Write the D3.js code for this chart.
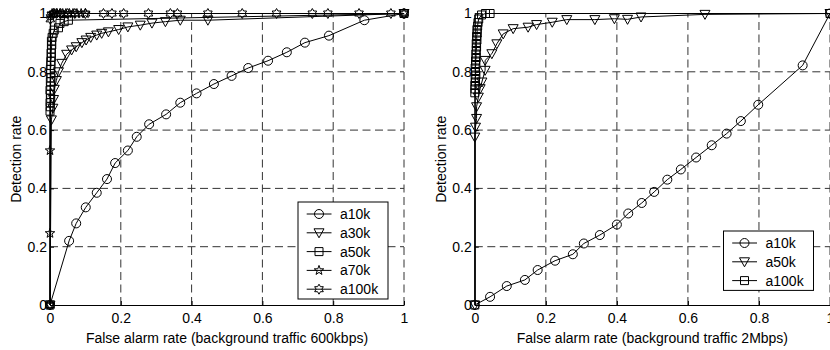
<!DOCTYPE html>
<html>
<head>
<meta charset="utf-8">
<script src="https://cdn.jsdelivr.net/npm/d3@7"></script>
<style>
  body { margin: 0; background: #fff; }
  svg { display: block; font-family: "Liberation Sans", Arial, Helvetica, sans-serif; }
</style>
</head>
<body>
<svg id="chart" width="830" height="350"></svg>
<script>
// tick values / labels shared by both panels
const tickValues = [0, 0.2, 0.4, 0.6, 0.8, 1];
const tickLabels = ["0", "0.2", "0.4", "0.6", "0.8", "1"];

// left panel: background traffic 600kbps, [false alarm, detection]
const a10k_600 = [[0,0],[0.054,0.22],[0.074,0.28],[0.101,0.335],[0.132,0.385],[0.161,0.432],[0.184,0.487],
  [0.22,0.53],[0.245,0.577],[0.28,0.62],[0.328,0.654],[0.368,0.694],[0.414,0.726],[0.463,0.758],[0.513,0.786],
  [0.56,0.813],[0.616,0.838],[0.669,0.867],[0.72,0.9],[0.788,0.924],[0.888,0.977],[1,1]];
const a30k_600 = [[0,0],[0.004,0.635],[0.008,0.675],[0.01,0.705],[0.012,0.74],[0.018,0.77],[0.024,0.8],
  [0.033,0.829],[0.047,0.86],[0.061,0.875],[0.074,0.886],[0.09,0.9],[0.102,0.909],[0.115,0.918],[0.132,0.926],
  [0.146,0.932],[0.165,0.937],[0.194,0.945],[0.22,0.954],[0.255,0.96],[0.288,0.967],[0.326,0.972],[0.368,0.977],
  [0.446,0.977],[1,1]];
const a50k_600 = [[0,0],[0,0.665],[0.001,0.68],[0,0.694],[0.002,0.709],[0.001,0.722],[0,0.737],[0.002,0.751],
  [0.001,0.766],[0.003,0.779],[0.002,0.794],[0.001,0.808],[0.003,0.822],[0.002,0.836],[0.004,0.85],[0.003,0.864],
  [0.004,0.878],[0.005,0.892],[0.004,0.905],[0.006,0.918],[0.009,0.932],[0.012,0.943],[0.024,0.951],
  [0.028,0.966],[0.04,0.972],[0.052,0.977],[1,1]];
const a70k_600 = [[0,0],[0,0.246],[0,0.53],[0.002,0.99],[0.006,1],[0.012,1],[0.02,1],[0.028,1],[0.036,1],
  [0.045,1],[0.055,1],[0.065,1],[0.076,1],[0.088,1],[0.1,1],[1,1]];
const a100k_600 = [[0,0],[0.001,0.98],[0.004,0.995],[0.01,1],[0.018,1],[0.03,1],[0.05,1],[0.07,1],[0.1,1],
  [0.151,1],[0.175,1],[0.208,1],[0.278,1],[0.34,1],[0.36,1],[0.446,1],[0.543,1],[0.64,1],[0.741,1],
  [0.785,1],[0.873,1],[0.963,1],[1,1]];

// right panel: background traffic 2Mbps
const a10k_2m = [[0,0],[0.043,0.028],[0.09,0.065],[0.141,0.086],[0.177,0.12],[0.226,0.152],[0.276,0.174],
  [0.307,0.211],[0.352,0.24],[0.4,0.276],[0.432,0.314],[0.47,0.35],[0.505,0.388],[0.542,0.43],[0.58,0.465],
  [0.623,0.506],[0.667,0.548],[0.709,0.588],[0.749,0.631],[0.798,0.687],[0.923,0.822],[1,1]];
const a50k_2m = [[0,0],[0,0.576],[0.002,0.61],[0.005,0.64],[0.005,0.68],[0.01,0.713],[0.015,0.742],
  [0.02,0.765],[0.029,0.805],[0.029,0.839],[0.048,0.862],[0.062,0.896],[0.08,0.93],[0.108,0.948],
  [0.15,0.953],[0.174,0.962],[0.218,0.97],[0.259,0.979],[0.338,0.979],[0.393,0.982],[0.43,0.98],
  [0.468,0.988],[0.648,0.997],[1,1]];
const a100k_2m = [[0,0],[0,0.728],[0.001,0.741],[0,0.753],[0.002,0.765],[0.001,0.777],[0.003,0.789],
  [0.002,0.801],[0.001,0.813],[0.003,0.825],[0.002,0.837],[0.004,0.849],[0.003,0.861],[0.004,0.873],
  [0.005,0.885],[0.004,0.897],[0.006,0.909],[0.005,0.921],[0.007,0.933],[0.006,0.945],[0.008,0.957],
  [0.009,0.969],[0.011,0.981],[0.019,0.995],[0.03,1],[0.043,1],[1,1]];

const leftNames = ["a10k", "a30k", "a50k", "a70k", "a100k"];
const rightNames = ["a10k", "a50k", "a100k"];
const xTitles = ["False alarm rate (background traffic 600kbps)", "False alarm rate (background traffic 2Mbps)"];
const yTitle = "Detection rate";

// marker shapes (size = radius in px)
const circle = { draw(c, r) { c.moveTo(r, 0); c.arc(0, 0, r, 0, 2 * Math.PI); } };
const triDown = { draw(c, r) { c.moveTo(-r, -r * 0.8); c.lineTo(r, -r * 0.8); c.lineTo(0, r); c.closePath(); } };
const square = { draw(c, r) { c.rect(-r, -r, 2 * r, 2 * r); } };
function starShape(n, inner) {
  return { draw(c, r) {
    for (let i = 0; i < 2 * n; i++) {
      const a = -Math.PI / 2 + i * Math.PI / n, rr = i % 2 ? r * inner : r;
      if (i === 0) c.moveTo(rr * Math.cos(a), rr * Math.sin(a));
      else c.lineTo(rr * Math.cos(a), rr * Math.sin(a));
    }
    c.closePath();
  } };
}
const pentagram = starShape(5, 0.4);
const hexagram = starShape(6, 0.577);

const svg = d3.select("#chart");

function panel(x0, x1, series, names, shapes, sizes, xTitle, legendX, legendY) {
  const x = d3.scaleLinear().domain([0, 1]).range([x0, x1]);
  const y = d3.scaleLinear().domain([0, 1]).range([305, 13.5]);
  const g = svg.append("g");

  // dashed grid
  g.append("g").selectAll("line").data(tickValues.slice(1)).join("line")
    .attr("x1", d => x(d)).attr("x2", d => x(d))
    .attr("y1", y(0)).attr("y2", y(1))
    .attr("stroke", "#333").attr("stroke-dasharray", "8,4.5");
  g.append("g").selectAll("line").data(tickValues.slice(1)).join("line")
    .attr("x1", x(0)).attr("x2", x(1))
    .attr("y1", d => y(d)).attr("y2", d => y(d))
    .attr("stroke", "#333").attr("stroke-dasharray", "8,4.5");

  // axes
  const ax = g.append("g").attr("transform", "translate(0," + y(0) + ")")
    .call(d3.axisBottom(x).tickValues(tickValues).tickFormat((d, i) => tickLabels[i])
      .tickSizeInner(-4).tickSizeOuter(0).tickPadding(8));
  const ay = g.append("g").attr("transform", "translate(" + x(0) + ",0)")
    .call(d3.axisLeft(y).tickValues(tickValues).tickFormat((d, i) => tickLabels[i])
      .tickSizeInner(-4).tickSizeOuter(0).tickPadding(3));
  [ax, ay].forEach(a => {
    a.selectAll("text").attr("font-size", 14).attr("font-family", null).attr("fill", "#000");
    a.selectAll("path, line").attr("stroke", "#000");
  });

  g.append("text")
    .attr("x", (x0 + x1) / 2).attr("y", 342.5)
    .attr("text-anchor", "middle").attr("font-size", 14)
    .text(xTitle);
  g.append("text")
    .attr("transform", "translate(" + (x0 - 29) + "," + (y(0) + y(1)) / 2 + ") rotate(-90)")
    .attr("text-anchor", "middle").attr("font-size", 14)
    .text(yTitle);

  // series
  const line = d3.line().x(d => x(d[0])).y(d => y(d[1]));
  series.forEach((s, i) => {
    g.append("path").datum(s)
      .attr("d", line).attr("fill", "none").attr("stroke", "#000").attr("stroke-width", 1);
    g.append("g").selectAll("path").data(s).join("path")
      .attr("transform", d => "translate(" + x(d[0]) + "," + y(d[1]) + ")")
      .attr("d", d3.symbol().type(shapes[i]).size(sizes[i]))
      .attr("fill", "none").attr("stroke", "#000").attr("stroke-width", 1);
  });

  // legend
  const rowH = 18.8;
  const lg = g.append("g").attr("transform", "translate(" + legendX + "," + legendY + ")");
  lg.append("rect")
    .attr("width", 90).attr("height", names.length * rowH + 3)
    .attr("fill", "#fff").attr("stroke", "#000");
  names.forEach((n, i) => {
    const ry = 12 + i * rowH;
    lg.append("line").attr("x1", 8.7).attr("x2", 33.5).attr("y1", ry).attr("y2", ry).attr("stroke", "#000");
    lg.append("path").attr("transform", "translate(21," + ry + ")")
      .attr("d", d3.symbol().type(shapes[i]).size(sizes[i]))
      .attr("fill", "none").attr("stroke", "#000");
    lg.append("text").attr("x", 42).attr("y", ry + 5).attr("font-size", 14).text(n);
  });
}

panel(50, 404, [a10k_600, a30k_600, a50k_600, a70k_600, a100k_600], leftNames,
  [circle, triDown, square, pentagram, hexagram], [4.5, 5, 4, 5, 5], xTitles[0], 298, 202);
panel(474.8, 830, [a10k_2m, a50k_2m, a100k_2m], rightNames,
  [circle, triDown, square], [4.5, 5, 4], xTitles[1], 723.5, 231);
</script>
</body>
</html>
